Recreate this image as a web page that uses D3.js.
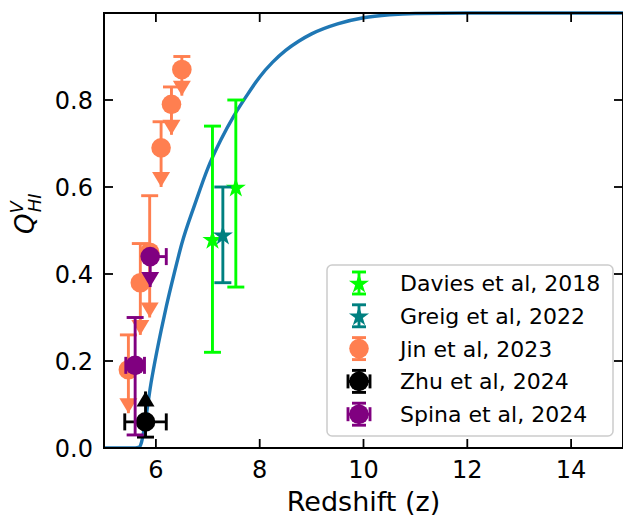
<!DOCTYPE html>
<html>
<head>
<meta charset="utf-8">
<script src="https://cdn.jsdelivr.net/npm/d3@7"></script>
<style>
body { margin: 0; background: #fff; }
svg { display: block; font-family: "DejaVu Sans", sans-serif; }
</style>
</head>
<body>
<div id="chart"></div>
<script>
// model curve
var modelZ = [5.0, 5.6, 5.68, 5.72, 5.76, 5.82, 5.9, 5.95, 6.1, 6.2, 6.35, 6.5, 6.75, 7.0, 7.25, 7.5, 7.75, 8.0, 8.25, 8.5, 8.75, 9.0, 9.5, 10.0, 10.5, 11.0, 12.0, 15.0];
var modelQ = [0, 0, 0.002, 0.012, 0.035, 0.08, 0.145, 0.179, 0.27, 0.325, 0.40, 0.47, 0.56, 0.643, 0.708, 0.763, 0.81, 0.853, 0.887, 0.914, 0.935, 0.952, 0.975, 0.989, 0.996, 0.999, 1, 1];

// observations
var daviesZ = [7.09, 7.54], daviesQ = [0.48, 0.60], daviesHi = [0.74, 0.80], daviesLo = [0.22, 0.37];
var greigZ = [7.29], greigQ = [0.49], greigHi = [0.60], greigLo = [0.38];
var jinZ = [5.47, 5.70, 5.88, 6.10, 6.30, 6.50];
var jinQ = [0.18, 0.38, 0.45, 0.69, 0.79, 0.87];
var jinHi = [0.26, 0.47, 0.58, 0.75, 0.83, 0.90];
var jinLo = [0.08, 0.26, 0.30, 0.60, 0.72, 0.81];
var zhuZ = [5.80], zhuQ = [0.06], zhuHi = [0.13], zhuLo = [0.025], zhuZLo = [5.40], zhuZHi = [6.20];
var spinaZ = [5.60, 5.89], spinaQ = [0.19, 0.44], spinaHi = [0.30, 0.44], spinaLo = [0.03, 0.37];
var spinaZLo = [5.42, 5.89], spinaZHi = [5.78, 6.20];

var xTicks = [6, 8, 10, 12, 14];
var yTicks = [0, 0.2, 0.4, 0.6, 0.8];

var W = 623, H = 517;
var M = { left: 104, right: 623, top: 13, bottom: 448 };

var svg = d3.select('#chart').append('svg').attr('width', W).attr('height', H);

var x = d3.scaleLinear().domain([5, 15]).range([M.left, M.right]);
var y = d3.scaleLinear().domain([0, 1]).range([M.bottom, M.top]);

var plot = svg.append('g');
svg.append('clipPath').attr('id', 'clip').append('rect')
	.attr('x', M.left).attr('y', M.top - 2).attr('width', M.right - M.left).attr('height', M.bottom - M.top + 2);

// curve
var line = d3.line().x((d) => x(d[0])).y((d) => y(d[1])).curve(d3.curveMonotoneX);
plot.append('path')
	.datum(modelZ.map((z, i) => [z, modelQ[i]]))
	.attr('d', line)
	.attr('clip-path', 'url(#clip)')
	.attr('fill', 'none')
	.attr('stroke', '#1f77b4')
	.attr('stroke-width', 3.4);

var CAP = 8.5, LW = 2.9;

function caret(g, cx, tipY, dir, color) {
	// dir = 1 points down, -1 points up
	var b = tipY - dir * 15;
	g.append('path')
		.attr('d', 'M' + (cx - 9) + ',' + b + 'L' + cx + ',' + tipY + 'L' + (cx + 9) + ',' + b + 'Z')
		.attr('fill', color);
}

function marker(g, kind, cx, cy, color) {
	if (kind === 'star') {
		g.append('path')
			.attr('d', d3.symbol().type(d3.symbolStar).size(125)())
			.attr('transform', 'translate(' + cx + ',' + (cy + 1) + ')')
			.attr('fill', color);
	} else {
		g.append('circle').attr('cx', cx).attr('cy', cy).attr('r', 9.8).attr('fill', color);
	}
}

function drawSeries(s) {
	var g = plot.append('g');
	s.z.forEach((z, i) => {
		var cx = x(z), cy = y(s.q[i]);
		var yh = y(s.hi[i]), yl = y(s.lo[i]);
		var down = s.uplim || (s.uplimIdx && s.uplimIdx.indexOf(i) >= 0);
		g.append('line').attr('x1', cx).attr('x2', cx).attr('y1', yh).attr('y2', yl)
			.attr('stroke', s.color).attr('stroke-width', LW);
		if (s.lolim) caret(g, cx, yh, -1, s.color);
		else if (s.hi[i] !== s.q[i]) g.append('line').attr('x1', cx - CAP).attr('x2', cx + CAP).attr('y1', yh).attr('y2', yh)
			.attr('stroke', s.color).attr('stroke-width', LW);
		if (down) caret(g, cx, yl, 1, s.color);
		else g.append('line').attr('x1', cx - CAP).attr('x2', cx + CAP).attr('y1', yl).attr('y2', yl)
			.attr('stroke', s.color).attr('stroke-width', LW);
		if (s.zlo) {
			var xl = x(s.zlo[i]), xh = x(s.zhi[i]);
			g.append('line').attr('x1', xl).attr('x2', xh).attr('y1', cy).attr('y2', cy)
				.attr('stroke', s.color).attr('stroke-width', LW);
			[xl, xh].forEach((xx) => {
				if (Math.abs(xx - cx) > 1)
					g.append('line').attr('x1', xx).attr('x2', xx).attr('y1', cy - CAP).attr('y2', cy + CAP)
						.attr('stroke', s.color).attr('stroke-width', LW);
			});
		}
		marker(g, s.kind, cx, cy, s.color);
	});
}

var series = [
	{ name: 'Davies et al, 2018', z: daviesZ, q: daviesQ, hi: daviesHi, lo: daviesLo, color: '#00ff00', kind: 'star' },
	{ name: 'Greig et al, 2022', z: greigZ, q: greigQ, hi: greigHi, lo: greigLo, color: '#008080', kind: 'star' },
	{ name: 'Jin et al, 2023', z: jinZ, q: jinQ, hi: jinHi, lo: jinLo, color: '#ff7f50', kind: 'circle', uplim: true },
	{ name: 'Zhu et al, 2024', z: zhuZ, q: zhuQ, hi: zhuHi, lo: zhuLo, zlo: zhuZLo, zhi: zhuZHi, color: '#000000', kind: 'circle', lolim: true },
	// second Spina point is an upper limit only
	{ name: 'Spina et al, 2024', z: spinaZ, q: spinaQ, hi: spinaHi, lo: spinaLo, zlo: spinaZLo, zhi: spinaZHi, color: '#800080', kind: 'circle', uplimIdx: [1] }
];

series.forEach(drawSeries);

// axes, ticks inward on all sides
var TL = 9;
var axes = svg.append('g').attr('stroke', '#000').attr('stroke-width', 1.8);
xTicks.forEach((t) => {
	axes.append('line').attr('x1', x(t)).attr('x2', x(t)).attr('y1', M.bottom).attr('y2', M.bottom - TL);
	axes.append('line').attr('x1', x(t)).attr('x2', x(t)).attr('y1', M.top).attr('y2', M.top + TL);
});
yTicks.forEach((t) => {
	axes.append('line').attr('x1', M.left).attr('x2', M.left + TL).attr('y1', y(t)).attr('y2', y(t));
	axes.append('line').attr('x1', M.right).attr('x2', M.right - TL).attr('y1', y(t)).attr('y2', y(t));
});
axes.append('rect').attr('x', M.left).attr('y', M.top).attr('width', M.right - M.left).attr('height', M.bottom - M.top)
	.attr('fill', 'none').attr('stroke-width', 2);

svg.append('g').selectAll('text').data(xTicks).join('text')
	.attr('x', (d) => x(d)).attr('y', 478).attr('text-anchor', 'middle')
	.attr('font-size', 24).text((d) => d);
svg.append('g').selectAll('text').data(yTicks).join('text')
	.attr('x', 93).attr('y', (d) => y(d) + 8.5).attr('text-anchor', 'end')
	.attr('font-size', 24).text((d) => d.toFixed(1));

svg.append('text').attr('x', (M.left + M.right) / 2).attr('y', 511).attr('text-anchor', 'middle')
	.attr('font-size', 27).text('Redshift (z)');

var yl = svg.append('text').attr('transform', 'translate(34,234) rotate(-90)').attr('font-size', 26).attr('font-style', 'italic');
yl.append('tspan').text('Q');
yl.append('tspan').attr('font-size', 18).attr('dy', -11).text('V');
yl.append('tspan').attr('font-size', 18).attr('dx', -11).attr('dy', 18).text('HI');

// legend
var leg = svg.append('g');
leg.append('rect').attr('x', 327).attr('y', 265).attr('width', 286).attr('height', 171).attr('rx', 5)
	.attr('fill', '#fff').attr('fill-opacity', 0.8).attr('stroke', '#cccccc').attr('stroke-width', 1.5);
series.forEach((s, i) => {
	var cy = 283 + i * 32.8, cx = 359;
	var g = leg.append('g');
	g.append('line').attr('x1', cx).attr('x2', cx).attr('y1', cy - 11).attr('y2', cy + 11).attr('stroke', s.color).attr('stroke-width', LW);
	[cy - 11, cy + 11].forEach((yy) => g.append('line').attr('x1', cx - 7).attr('x2', cx + 7).attr('y1', yy).attr('y2', yy)
		.attr('stroke', s.color).attr('stroke-width', LW));
	if (s.zlo) {
		g.append('line').attr('x1', cx - 11).attr('x2', cx + 11).attr('y1', cy).attr('y2', cy).attr('stroke', s.color).attr('stroke-width', LW);
		[cx - 11, cx + 11].forEach((xx) => g.append('line').attr('x1', xx).attr('x2', xx).attr('y1', cy - 7).attr('y2', cy + 7)
			.attr('stroke', s.color).attr('stroke-width', LW));
	}
	marker(g, s.kind, cx, cy, s.color);
	leg.append('text').attr('x', 400).attr('y', cy + 8).attr('font-size', 22).text(s.name);
});
</script>
</body>
</html>
